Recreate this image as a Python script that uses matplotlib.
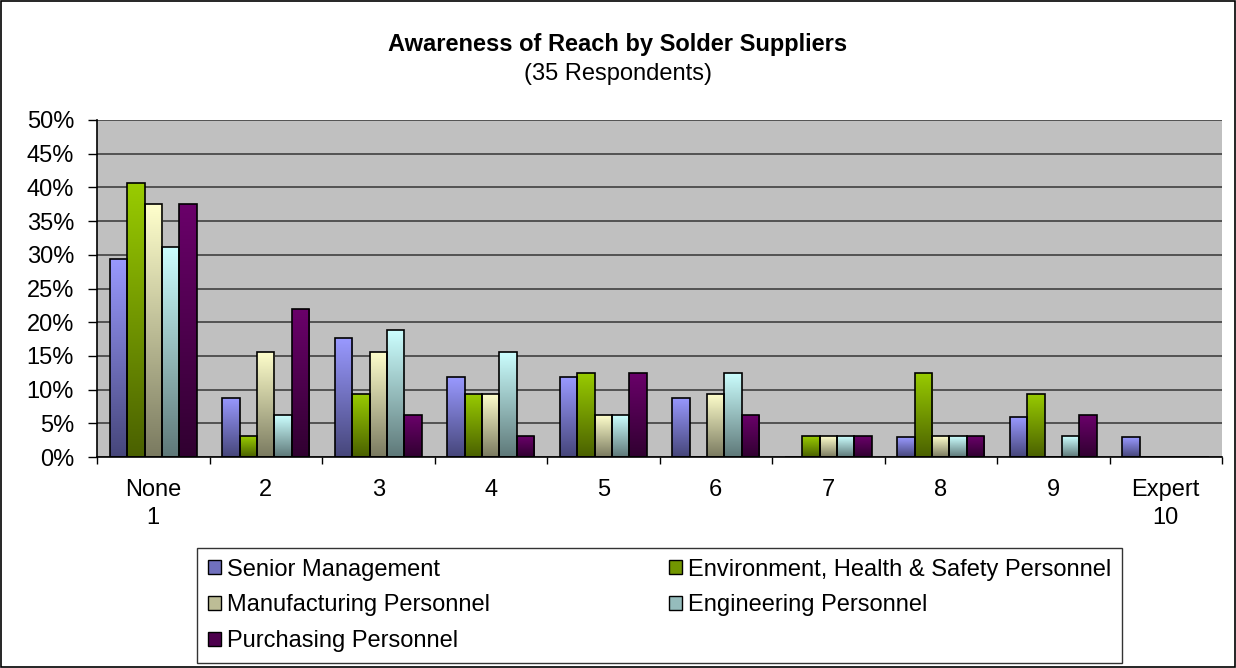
import numpy as np
import matplotlib
matplotlib.use("Agg")
import matplotlib.pyplot as plt
from matplotlib.colors import LinearSegmentedColormap
from matplotlib.patches import Patch, Rectangle

plt.rcParams["font.family"] = ["Liberation Sans", "DejaVu Sans"]

# data (percent of respondents)
categories = ["None\n1", "2", "3", "4", "5", "6", "7", "8", "9", "Expert\n10"]
series_names = [
    "Senior Management",
    "Environment, Health & Safety Personnel",
    "Manufacturing Personnel",
    "Engineering Personnel",
    "Purchasing Personnel",
]
senior = [29.4, 8.8, 17.6, 11.8, 11.8, 8.8, 0.0, 2.9, 5.9, 2.9]
ehs = [40.6, 3.1, 9.4, 9.4, 12.5, 0.0, 3.1, 12.5, 9.4, 0.0]
manufacturing = [37.5, 15.6, 15.6, 9.4, 6.2, 9.4, 3.1, 3.1, 0.0, 0.0]
engineering = [31.2, 6.2, 18.8, 15.6, 6.2, 12.5, 3.1, 3.1, 3.1, 0.0]
purchasing = [37.5, 21.9, 6.2, 3.1, 12.5, 6.2, 3.1, 3.1, 6.2, 0.0]
series = [senior, ehs, manufacturing, engineering, purchasing]

# (top colour, bottom colour) of each bar gradient
gradients = [
    ("#9999FF", "#46467A"),
    ("#99CC00", "#4A6000"),
    ("#FFFFCC", "#7A7A60"),
    ("#CCFFFF", "#5E7878"),
    ("#6A006A", "#300030"),
]

FS = 17

fig = plt.figure(figsize=(12.36, 6.68), dpi=100)
ax = fig.add_axes([97 / 1236, 211 / 668, 1125 / 1236, 337 / 668])
ax.set_facecolor("#C0C0C0")

x = np.arange(len(categories))
width = 0.154
grad = np.linspace(0, 1, 256).reshape(-1, 1)

for j, (vals, (top, bottom)) in enumerate(zip(series, gradients)):
    cmap = LinearSegmentedColormap.from_list(f"g{j}", [bottom, top])
    bars = ax.bar(x + (j - 2) * width, vals, width, facecolor="none",
                  edgecolor="black", linewidth=1.2, zorder=3)
    for bar in bars:
        h = bar.get_height()
        if h <= 0:
            continue
        bx = bar.get_x()
        im = ax.imshow(grad, extent=[bx, bx + width, 0, h], origin="lower",
                       aspect="auto", cmap=cmap, zorder=2.5)
        im.set_clip_path(bar)

ax.set_xlim(-0.5, len(categories) - 0.5)
ax.set_ylim(0, 50)

ax.set_yticks(np.arange(0, 51, 5))
ax.set_yticklabels([f"{v}%" for v in range(0, 51, 5)], fontsize=FS)
ax.yaxis.grid(True, color="#404040", linewidth=1.2)
ax.set_axisbelow(True)

ax.set_xticks(np.arange(-0.5, len(categories), 1.0))
ax.set_xticklabels([])
ax.set_xticks(x, minor=True)
ax.set_xticklabels(categories, minor=True, fontsize=FS, linespacing=1.35)
ax.tick_params(axis="x", which="minor", length=0, pad=16)
ax.tick_params(axis="x", which="major", direction="out", length=5, width=1)
ax.tick_params(axis="y", which="major", direction="out", length=6.5, width=1, pad=10)

for side in ["top", "right"]:
    ax.spines[side].set_visible(False)
ax.spines["left"].set_linewidth(1.2)
ax.spines["bottom"].set_linewidth(1.2)

fig.text(0.5, 1 - 51 / 668, "Awareness of Reach by Solder Suppliers", ha="center",
         va="baseline", fontsize=FS, fontweight="bold")
fig.text(0.5, 1 - 80 / 668, "(35 Respondents)", ha="center", va="baseline", fontsize=FS)

handles = [Patch(facecolor=LinearSegmentedColormap.from_list("h", [b, t])(0.5),
                 edgecolor="black", linewidth=1) for t, b in gradients]
order = [0, 2, 4, 1, 3]  # fill the legend row by row
leg = fig.legend([handles[i] for i in order], [series_names[i] for i in order],
                 ncol=2, loc="upper left",
                 bbox_to_anchor=(197 / 1236, 1 - 548 / 668), fontsize=FS,
                 frameon=True, fancybox=False, edgecolor="black",
                 handlelength=0.55, handleheight=0.55, handletextpad=0.25,
                 columnspacing=7.6, labelspacing=0.58, borderaxespad=0,
                 borderpad=0.45)
leg.get_frame().set_linewidth(1)

fig.add_artist(Rectangle((0.0008, 0.0012), 0.9984, 0.9976, transform=fig.transFigure,
                         fill=False, edgecolor="black", linewidth=1.2))

fig.savefig("out.png", dpi=100, facecolor="white")
